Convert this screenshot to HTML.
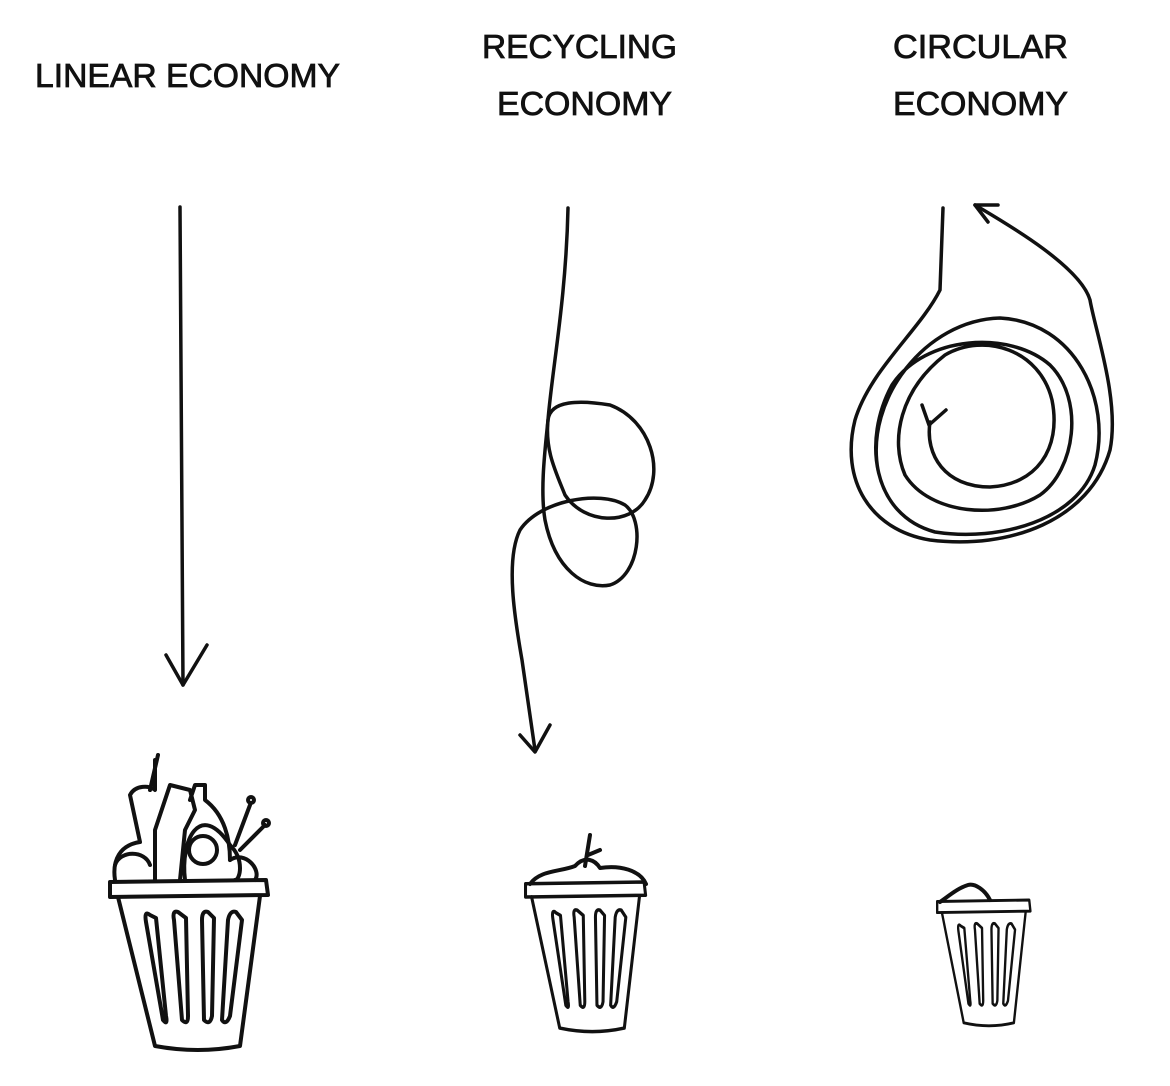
<!DOCTYPE html>
<html><head><meta charset="utf-8"><style>
html,body{margin:0;padding:0;background:#fff;}
svg{display:block}
text{font-family:"Liberation Sans",sans-serif;font-size:33px;fill:#111;stroke:#111;stroke-width:0.8;letter-spacing:0px}
</style></head><body>
<svg width="1170" height="1086" viewBox="0 0 1170 1086" xmlns="http://www.w3.org/2000/svg">
<defs>
<g id="can" fill="none" stroke="#111" stroke-width="4" stroke-linejoin="round" stroke-linecap="round">
<path d="M2,2 L158,0 L160,15 L2,17 Z"/>
<path d="M10,17 L47,166 Q90,174 132,166 L152,16"/>
<path d="M42,35 Q36,30 38,42 L55,140 Q60,146 58,136 L48,38 Z"/>
<path d="M70,32 Q64,30 66,40 L74,140 Q80,146 80,136 L78,38 Z"/>
<path d="M100,32 Q94,30 94,40 L96,140 Q102,146 104,136 L106,38 Z"/>
<path d="M128,32 Q122,30 120,40 L114,140 Q118,146 122,136 L134,40 Z"/>
</g>
</defs>
<text x="35" y="87" textLength="305" lengthAdjust="spacingAndGlyphs">LINEAR ECONOMY</text>
<text x="482" y="58" textLength="195" lengthAdjust="spacingAndGlyphs">RECYCLING</text>
<text x="497" y="115" textLength="175" lengthAdjust="spacingAndGlyphs">ECONOMY</text>
<text x="893" y="58" textLength="175" lengthAdjust="spacingAndGlyphs">CIRCULAR</text>
<text x="893" y="115" textLength="175" lengthAdjust="spacingAndGlyphs">ECONOMY</text>
<g fill="none" stroke="#111" stroke-width="3.5" stroke-linecap="round" stroke-linejoin="round">
<path d="M180,207 L183,685"/>
<path d="M166,655 L183,685 L207,645"/>
<path d="M568,208 C566,300 552,370 548,420 C545,450 540,490 545,520 C555,570 585,590 610,585 C640,575 645,520 625,505 C600,490 540,500 520,530 C505,560 515,620 522,660 L535,750"/>
<path d="M548,420 C550,400 580,400 610,405 C650,420 665,470 645,500 C630,525 585,525 565,495 C555,470 545,450 548,420"/>
<path d="M520,735 L535,752 L550,725"/>
<path d="M943,208 L940,290 C920,330 870,370 855,420 C840,480 870,530 930,540 C1010,550 1090,520 1110,450 C1120,400 1095,330 1090,300 C1080,265 1000,220 975,205"/>
<path d="M975,205 L988,222 M975,205 L998,205"/>
<path d="M878,470 C865,400 925,320 1000,318 C1075,322 1112,400 1095,465 C1078,520 1000,542 935,532 C872,515 862,440 892,385 C925,335 1010,330 1050,365 C1085,400 1075,470 1040,495 C1000,520 930,515 905,475 C890,440 900,390 945,355 C985,332 1040,350 1052,400 C1062,450 1035,485 990,487 C945,487 925,455 930,422"/>
<path d="M922,405 L929,425 L946,410"/>
</g>
<use href="#can" transform="translate(108,880)"/>
<use href="#can" transform="translate(524,882) scale(0.76,0.88)"/>
<use href="#can" transform="translate(936,900) scale(0.59,0.74)"/>
<g fill="none" stroke="#111" stroke-width="4" stroke-linejoin="round" stroke-linecap="round">
<path d="M115,880 C112,860 120,845 140,842 L130,795 C135,785 150,785 155,790 L155,760 M150,790 L158,755"/>
<path d="M155,880 L155,830 L170,785 L190,790 L195,810 L185,830 L180,880"/>
<path d="M185,880 C180,840 200,800 230,845 C245,860 240,880 235,880"/>
<path d="M190,800 L195,785 L205,785 L205,800 C225,815 230,840 230,860"/>
<circle cx="203" cy="850" r="14"/>
<path d="M230,860 C245,850 262,870 255,880 M235,845 L250,805 M240,850 L265,825"/>
<circle cx="251" cy="800" r="3"/><circle cx="266" cy="823" r="3"/>
<path d="M115,865 C120,850 145,850 150,865"/>
<path d="M530,884 C540,870 560,872 575,866 C585,855 595,860 600,868 C620,865 640,870 646,884"/>
<path d="M585,866 L590,835 M588,855 L600,850"/>
<path d="M940,902 C950,895 958,888 968,885 C975,883 985,890 990,900"/>
</g>
</svg>
</body></html>
